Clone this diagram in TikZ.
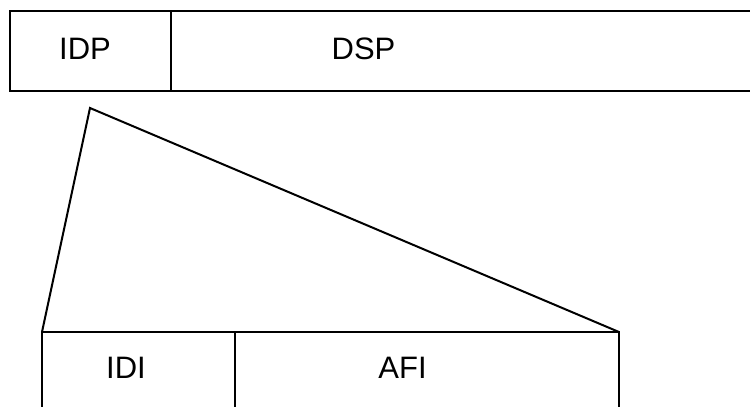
\documentclass[tikz,border=0pt]{standalone}
\usepackage{fontspec}
\setmainfont{Liberation Sans}
\usetikzlibrary{calc}

\begin{document}
\begin{tikzpicture}[x=1pt,y=-1pt,line width=2pt,
  cell/.style={draw,rectangle,inner sep=0pt,outer sep=0pt},
  lbl/.style={font=\fontsize{31}{37}\selectfont,inner sep=0pt}]

\useasboundingbox (0,0) rectangle (750,407);

\node[cell,minimum width=161,minimum height=80] (idp) at (90.5,51) {};
\node[cell,minimum width=589,minimum height=80] (dsp) at (465.5,51) {};
\node[cell,minimum width=193,minimum height=88] (idi) at (138.5,376) {};
\node[cell,minimum width=384,minimum height=88] (afi) at (427,376) {};

\node[lbl] (idpl) at (85,49) {IDP};
\node[lbl] (dspl) at (363.5,49) {DSP};
\node[lbl] (idil) at (126,368) {IDI};
\node[lbl] (afil) at (402.5,368) {AFI};

\coordinate (apex) at (90,108);

\draw[line join=miter] (idi.north west) -- (apex) -- (afi.north east);

\end{tikzpicture}
\end{document}
